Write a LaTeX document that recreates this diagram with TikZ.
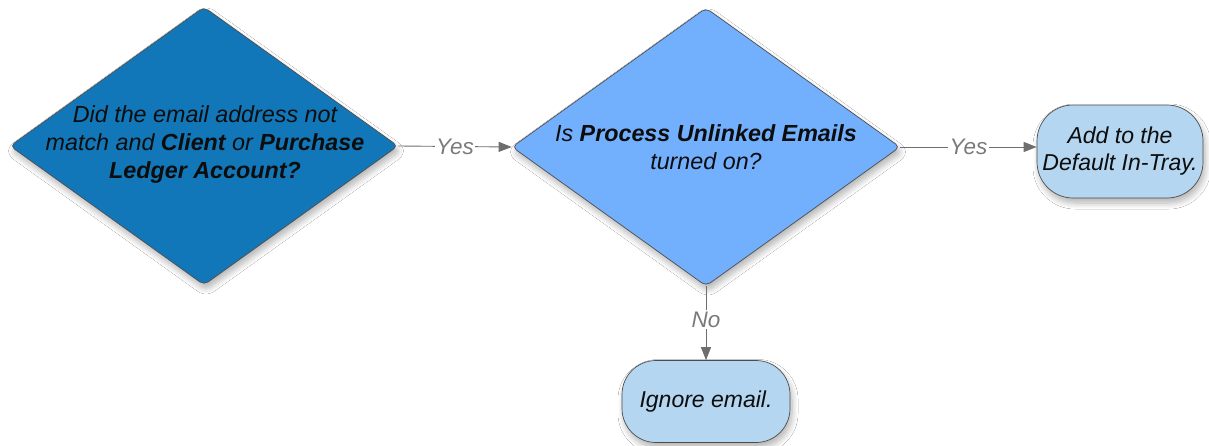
\documentclass[tikz,border=0pt]{standalone}
\usepackage{fontspec}
\setmainfont{Liberation Sans}
\usetikzlibrary{shapes.geometric,arrows.meta,shadows.blur}

\definecolor{deepblue}{HTML}{1277B8}
\definecolor{midblue}{HTML}{72B0FE}
\definecolor{paleblue}{HTML}{B4D6F0}
\definecolor{edgegray}{HTML}{4D4D4D}
\definecolor{linkgray}{HTML}{6E6E6E}
\definecolor{labelgray}{HTML}{7A7A7A}
\definecolor{inkblack}{HTML}{0D0D0D}

\begin{document}
\begin{tikzpicture}[x=1pt,y=-1pt,
  softshadow/.style={blur shadow={shadow xshift=2pt, shadow yshift=-5pt,
      shadow blur steps=8, shadow blur radius=6pt, shadow opacity=30}},
  decision/.style={diamond, draw=edgegray, line width=0.7pt, rounded corners=5pt,
      minimum width=388pt, minimum height=278pt, inner sep=0pt, softshadow},
  terminal/.style={rectangle, draw=edgegray, line width=0.7pt, fill=paleblue,
      inner sep=0pt, align=center, text=inkblack, softshadow,
      font=\fontsize{23}{27}\selectfont\itshape},
  question/.style={align=center, text=inkblack, inner sep=0pt,
      font=\fontsize{23.3}{28}\selectfont\itshape},
  link/.style={draw=linkgray, line width=0.9pt,
      -{Triangle[length=13pt,width=10pt]}},
  lbl/.style={fill=white, inner sep=1.5pt, text=labelgray,
      font=\fontsize{22.5}{26}\selectfont\itshape}
]
\useasboundingbox[fill=white] (0,0) rectangle (1209,446);

% decisions
\node[decision, fill=deepblue] (d1) at (204,146) {};
\node[question] (d1t) at (205,144)
  {Did the email address not\\
   match and \textbf{Client} or \textbf{Purchase}\\
   \textbf{Ledger Account?}};

\node[decision, fill=midblue] (d2) at (706,147) {};
\node[question] (d2t) at (706,147)
  {Is \textbf{Process Unlinked Emails}\\ turned on?};

% outcomes
\node[terminal, rounded corners=36pt, minimum width=166pt, minimum height=93pt]
  (intray) at (1120,151.5) {Add to the\\Default In-Tray.};
\node[terminal, rounded corners=34pt, minimum width=168pt, minimum height=82pt]
  (ignore) at (706,401.5) {Ignore email.};

% connectors
\draw[link] (d1.east) -- node[lbl] (y1) {Yes} (d2.west);
\draw[link] (d2.east) -- node[lbl] (y2) {Yes} (d2.east -| intray.west);
\draw[link] (d2.south) -- node[lbl, pos=0.45] (n1) {No} (ignore.north);
\end{tikzpicture}
\end{document}
